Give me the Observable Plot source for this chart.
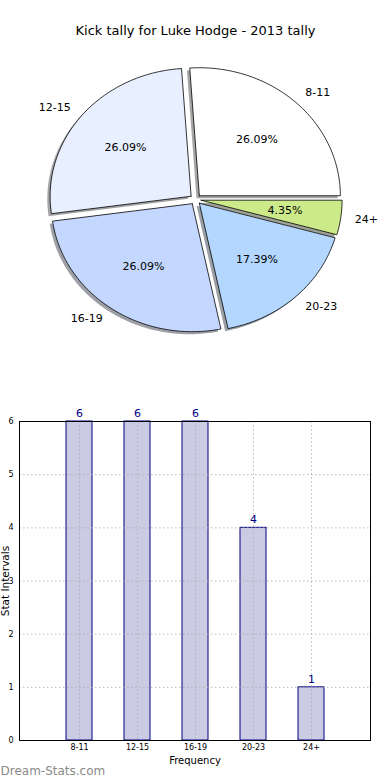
<!DOCTYPE html>
<html>
<head>
<meta charset="utf-8">
<script src="https://cdn.jsdelivr.net/npm/d3@7"></script>
<script src="https://cdn.jsdelivr.net/npm/@observablehq/plot@0.6"></script>
<style>
  body { margin: 0; background: #fff; font-family: "DejaVu Sans", sans-serif; }
  #wrap { width: 390px; height: 780px; overflow: hidden; }
  svg { display: block; font-family: "DejaVu Sans", sans-serif; }
</style>
</head>
<body>
<div id="wrap"></div>
<script>
const title = "Kick tally for Luke Hodge - 2013 tally";
const categories = ["8-11", "12-15", "16-19", "20-23", "24+"];
const counts = [6, 6, 6, 4, 1];
const pieColors = ["#ffffff", "#e8efff", "#c4d8ff", "#b3d7ff", "#cdea8a"];
const yTicks = [0, 1, 2, 3, 4, 5, 6];
const xLabel = "Frequency";
const yLabel = "Stat Intervals";
const watermark = "Dream-Stats.com";

// ---- pie geometry (matplotlib-like: start at 0 rad, counter-clockwise) ----
const explode = 0.04, shadowOff = -0.02;
const total = d3.sum(counts);
let acc = 0;
const slices = counts.map((v, i) => {
  const a0 = acc, a1 = acc + v / total * 2 * Math.PI;
  acc = a1;
  const mid = (a0 + a1) / 2;
  return {cat: categories[i], v, a0, a1, mid,
    ox: explode * Math.cos(mid), oy: explode * Math.sin(mid),
    color: pieColors[i], pct: (v / total * 100).toFixed(2) + "%"};
});
function polygon(s, dx, dy, key, color) {
  const pts = [{x: s.ox + dx, y: s.oy + dy, k: key, color}];
  const n = Math.max(4, Math.ceil((s.a1 - s.a0) / (Math.PI / 180)));
  for (let j = 0; j <= n; j++) {
    const a = s.a0 + (s.a1 - s.a0) * j / n;
    pts.push({x: s.ox + dx + Math.cos(a), y: s.oy + dy + Math.sin(a), k: key, color});
  }
  pts.push({x: s.ox + dx, y: s.oy + dy, k: key, color});
  return pts;
}
const shadowPts = slices.flatMap(s => {
  const c = d3.rgb(s.color);
  const sc = d3.rgb(c.r * 0.3, c.g * 0.3, c.b * 0.3).formatHex();
  return polygon(s, shadowOff, shadowOff, "sh" + s.cat, sc);
});
const slicePts = slices.flatMap(s => polygon(s, 0, 0, s.cat, s.color));

const cx = 195, cy = 199, rx = 141, ry = 128, pieH = 390;
const pie = Plot.plot({
  width: 390, height: pieH, margin: 0,
  x: {domain: [-cx / rx, (390 - cx) / rx], axis: null},
  y: {domain: [-(pieH - cy) / ry, cy / ry], axis: null},
  color: {type: "identity"},
  marks: [
    Plot.line(shadowPts, {x: "x", y: "y", z: "k", fill: "color", fillOpacity: 0.5, stroke: "none", curve: "linear"}),
    Plot.line(slicePts, {x: "x", y: "y", z: "k", fill: "color", stroke: "black", strokeWidth: 0.8, strokeLinejoin: "round", curve: "linear"}),
    Plot.text(slices, {x: d => d.ox + 0.6 * Math.cos(d.mid), y: d => d.oy + 0.6 * Math.sin(d.mid), text: "pct", fontSize: 11, fill: "black"}),
    Plot.text(slices.filter(d => Math.cos(d.mid) >= 0), {x: d => d.ox + 1.1 * Math.cos(d.mid), y: d => d.oy + 1.1 * Math.sin(d.mid), text: "cat", textAnchor: "start", fontSize: 11, fill: "black"}),
    Plot.text(slices.filter(d => Math.cos(d.mid) < 0), {x: d => d.ox + 1.1 * Math.cos(d.mid), y: d => d.oy + 1.1 * Math.sin(d.mid), text: "cat", textAnchor: "end", fontSize: 11, fill: "black"}),
    Plot.text([title], {frameAnchor: "top", dy: 30, lineAnchor: "middle", text: d => d, fontSize: 13, fill: "black"})
  ]
});

// ---- bar chart ----
const barData = categories.map((c, i) => ({cat: c, n: counts[i]}));
const bars = Plot.plot({
  width: 390, height: 390,
  marginLeft: 19, marginRight: 20, marginTop: 31, marginBottom: 40,
  x: {domain: categories, paddingInner: 0.556, paddingOuter: 0.778, label: null},
  y: {domain: [0, 6], label: null},
  marks: [
    Plot.barY(barData, {x: "cat", y: "n", fill: "#cbcbe3", stroke: "#000080", strokeWidth: 1}),
    Plot.gridY(yTicks, {stroke: "#aaa", strokeOpacity: 0.8, strokeDasharray: "1.5,2.5"}),
    Plot.gridX(categories, {stroke: "#aaa", strokeOpacity: 0.8, strokeDasharray: "1.5,2.5"}),
    Plot.axisY(yTicks, {tickSize: 0, tickPadding: 6, fontSize: 8, tickFormat: d3.format("d"), label: null, fill: "black"}),
    Plot.axisX({tickSize: 0, tickPadding: 4, fontSize: 8, label: null, fill: "black"}),
    Plot.frame({stroke: "black", strokeWidth: 1}),
    Plot.text(barData, {x: "cat", y: "n", text: d => String(d.n), dy: -8, fill: "#000080", fontSize: 11}),
    Plot.text([xLabel], {frameAnchor: "bottom", dy: 20, lineAnchor: "middle", text: d => d, fontSize: 10, fill: "black"}),
    Plot.text([yLabel], {frameAnchor: "left", dx: -14, rotate: -90, textAnchor: "middle", lineAnchor: "middle", text: d => d, fontSize: 10.5, fill: "black"}),
    Plot.text([watermark], {frameAnchor: "bottom-left", dx: -19, dy: 31, textAnchor: "start", lineAnchor: "middle", text: d => d, fontSize: 12, fill: "#8a8a8a"})
  ]
});

const wrap = document.getElementById("wrap");
wrap.appendChild(pie);
wrap.appendChild(bars);
</script>
</body>
</html>
